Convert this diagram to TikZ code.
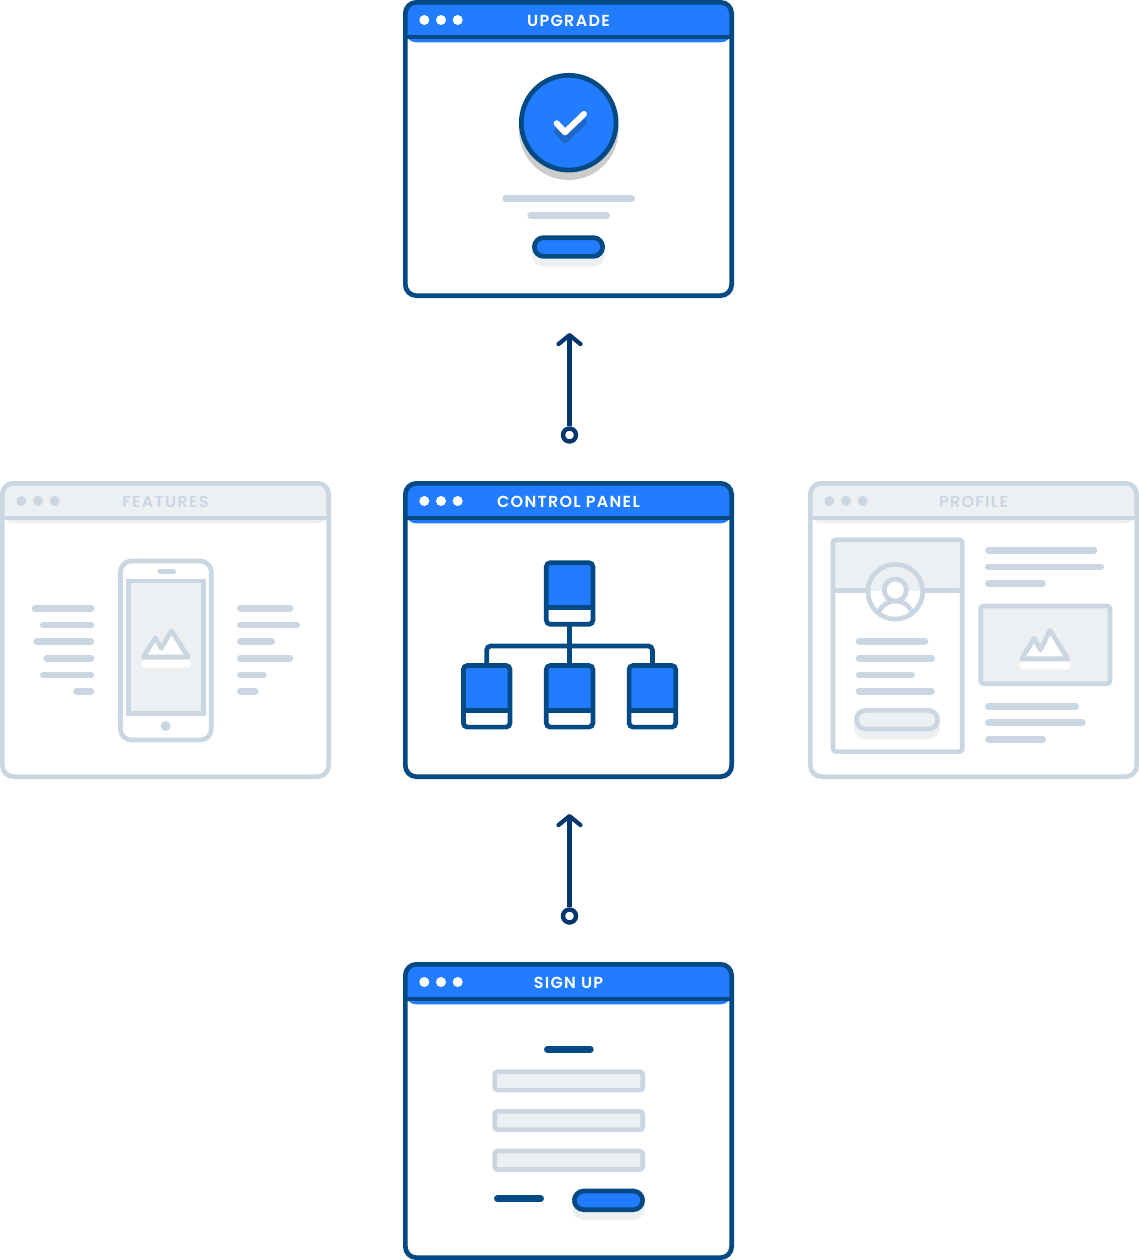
\documentclass[tikz,border=0pt]{standalone}
\usepackage{fontspec}
\usetikzlibrary{arrows.meta}
\newfontfamily\ttlfont[LetterSpace=8]{Poppins SemiBold}
\definecolor{dk}{HTML}{034A84}
\definecolor{bl}{HTML}{217CFF}
\definecolor{gl}{HTML}{CBD6E3}
\definecolor{gf}{HTML}{EDF0F3}
\definecolor{ar}{HTML}{02366E}
\definecolor{sh}{HTML}{CCCCCC}
\definecolor{cs}{HTML}{1F66C9}
\tikzset{
 x=1pt,y=-1pt,
 winbox/.style={draw=#1,line width=4.7pt,rounded corners=11pt,fill=white,inner sep=0pt,outer sep=0pt,minimum width=326.3pt,minimum height=293.3pt},
 ttl/.style={font=\ttlfont\fontsize{16}{16}\selectfont,inner sep=0pt,anchor=center},
 srvbox/.style={draw=dk,line width=4.7pt,rounded corners=4pt,fill=white,inner sep=0pt,outer sep=0pt,minimum width=46.6pt,minimum height=61.6pt,
   path picture={\fill[bl] (path picture bounding box.north west) rectangle ([yshift=-45pt]path picture bounding box.north east);}},
 sline/.style={line width=4.7pt,draw=dk},
 gline/.style={line width=4.7pt,draw=gl},
 mini/.style={line width=6.7pt,line cap=round},
 conn/.style={draw=ar,line width=4.2pt,-{Straight Barb[length=9pt,width=22pt,line width=4.2pt,line cap=round,round]}},
 ringnode/.style={circle,draw=ar,line width=4.4pt,fill=white,inner sep=0pt,minimum size=13pt,outer sep=2.2pt},
}
% outer left, outer top, name, fill, stroke, title, title colour, dot colour
\newcommand{\rsWin}[8]{%
 \node[winbox=#5,path picture={\fill[#4] ([yshift=-40pt]path picture bounding box.north west) rectangle (path picture bounding box.north east);}] (#3) at (#1+165.5,#2+149) {};
 \draw[line width=4.7pt,draw=#5] (#1,#2+37) -- (#1+331,#2+37);
 \foreach \d in {21.3,38,54.7}{\fill[#8] (#1+\d,#2+20) circle (5pt);}
 \node[ttl,text=#7] (#3t) at (#1+165.5,#2+20.5) {#6};
}
% x1,y1,x2,y2 outer; fill, stroke, shadow
\newcommand{\rsPill}[7]{%
 \fill[#7,rounded corners=11.6pt] (#1,#2+8) rectangle (#3,#4+8);
 \draw[fill=#5,draw=#6,line width=4.7pt,rounded corners=9.3pt] (#1+2.35,#2+2.35) rectangle (#3-2.35,#4-2.35);
}
\newcommand{\rsBar}[4]{\draw[mini,draw=#4] (#1+3.35,#3) -- (#2-3.35,#3);}
\newcommand{\rsSrv}[3]{%
 \node[srvbox] (#1) at (#2,#3) {};
 \draw[sline] (#2-25.65,#3+14.2) -- (#2+25.65,#3+14.2);
}
\newcommand{\rsMount}[8]{%
 \fill[white,rounded corners=3.5pt] (#1-2.5,#2+3) rectangle (#3+2.5,#2+10.6);
 \draw[line width=4.7pt,draw=gl,line join=round,fill=white] (#1,#2) -- (#4,#5) -- (#6,#7) -- (#8) -- (#3,#2) -- cycle;
}
\begin{document}
\begin{tikzpicture}
\useasboundingbox (0,0) rectangle (1139,1260);
\fill[white] (0,0) rectangle (1139,1260);

% ---------- upgrade
\rsWin{403}{0}{upg}{bl}{dk}{UPGRADE}{white}{white}
\fill[sh] (568.7,130.3) circle (49.7pt);
\draw[fill=bl,draw=dk,line width=4.7pt] (568.7,122.7) circle (47.4pt);
\draw[cs,line width=6pt,line cap=round,line join=round] (556.7,131.3) -- (565,140.3) -- (584,122);
\draw[white,line width=6pt,line cap=round,line join=round] (556.7,123.3) -- (565,132.3) -- (584,114);
\rsBar{502.3}{635}{198.8}{gl}
\rsBar{527.3}{610}{215.5}{gl}
\rsPill{532}{235.3}{605}{258.7}{bl}{dk}{gf}

% ---------- control panel
\rsWin{403}{481}{cp}{bl}{dk}{CONTROL PANEL}{white}{white}
\rsSrv{srvT}{569.6}{593.5}
\rsSrv{srvL}{486.7}{696.3}
\rsSrv{srvM}{569.6}{696.3}
\rsSrv{srvR}{652.4}{696.3}
\draw[sline] (srvT.south) -- (srvM.north);
\draw[sline,rounded corners=4pt] (srvL.north) -- ++(0,-19.5) -| (srvR.north);

% ---------- features
\rsWin{0}{481}{fea}{gf}{gl}{FEATURES}{gl}{gl}
\foreach \a/\b in {31.7/608.3,40/625,33.3/641.7,43.3/658.3,40/675,73/691.3}{\rsBar{\a}{94.3}{\b}{gl}}
\foreach \a/\b in {293.3/608.3,300/625,275/641.7,293.3/658.3,266.7/675,258.7/691.3}{\rsBar{237}{\a}{\b}{gl}}
\draw[gline,fill=white,rounded corners=11pt] (120.4,561) rectangle (211.3,740);
\draw[gline,fill=gf] (128.4,581) rectangle (203.3,713.6);
\draw[draw=gl,line width=5pt,line cap=round] (160,571.3) -- (173.5,571.3);
\fill[gl] (165.7,726) circle (5pt);
\rsMount{143.3}{657}{188.3}{155.3}{637.7}{161.3}{648.3}{171.3,630.7}

% ---------- profile
\rsWin{808}{481}{pro}{gf}{gl}{PROFILE}{gl}{gl}
\fill[gf] (833,539.7) rectangle (962.3,590.7);
\draw[gline,rounded corners=3pt] (833,539.7) rectangle (962.3,751.6);
\draw[gline] (833,590.7) -- (962.3,590.7);
\begin{scope}
 \clip (895.3,591.7) circle (27.4pt);
 \fill[white] (860,555) rectangle (930,630);
 \fill[gf] (860,555) rectangle (930,591);
 \draw[gline,fill=white] (895.3,619) circle (18pt);
\end{scope}
\draw[gline] (895.3,591.7) circle (27.4pt);
\draw[gline,fill=white] (895.3,590) circle (11pt);
\foreach \a/\b in {928.3/641.7,935/658.3,915/675,935/691.3}{\rsBar{855.7}{\a}{\b}{gl}}
\rsPill{854}{708}{940}{731.3}{gf}{gl}{gf}
\foreach \a/\b in {1097.3/550.3,1104/567,1046/583.7,1079/706.3,1085.7/722.7,1046/739.3}{\rsBar{985}{\a}{\b}{gl}}
\draw[gline,fill=gf,rounded corners=3pt] (980.7,606) rectangle (1110,683.7);
\rsMount{1021.7}{658.7}{1067.7}{1034.3}{638.3}{1040.3}{650}{1050,630.3}

% ---------- sign up
\rsWin{403}{962}{sig}{bl}{dk}{SIGN UP}{white}{white}
\rsBar{544}{593.7}{1049.3}{dk}
\foreach \t in {1069.3,1109,1148.7}{\draw[gline,fill=gf,rounded corners=3pt] (494.7,\t+2.35) rectangle (642.7,\t+20.8);}
\rsBar{494}{544}{1198.7}{dk}
\rsPill{572}{1188.7}{645}{1212}{bl}{dk}{gf}

% ---------- connectors
\node[ringnode] (r1) at (569.5,435) {};
\coordinate (t1) at (569.5,333);
\draw[conn] (r1) -- (t1);
\node[ringnode] (r2) at (569.5,916) {};
\coordinate (t2) at (569.5,814);
\draw[conn] (r2) -- (t2);
\end{tikzpicture}
\end{document}
